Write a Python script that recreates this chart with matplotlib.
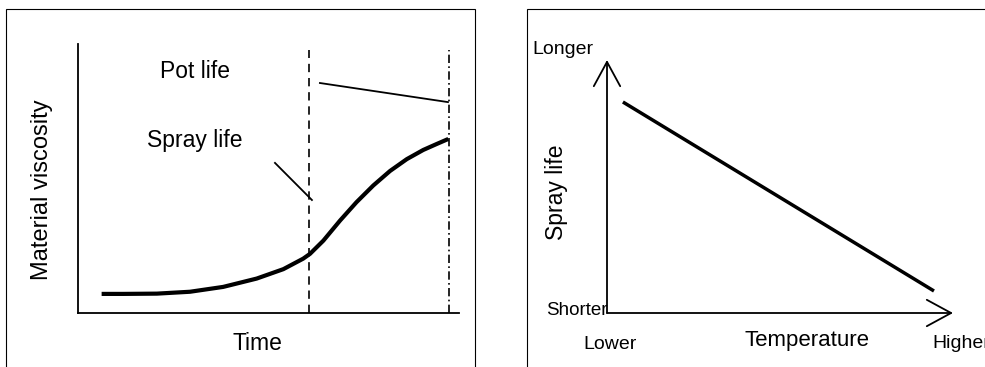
import matplotlib.pyplot as plt
from matplotlib.patches import Rectangle

plt.rcParams['font.family'] = ['Liberation Sans', 'DejaVu Sans']

# left panel: viscosity vs time (schematic units 0..10)
time = [0.62, 1.19, 2.07, 2.94, 3.81, 4.69, 5.39, 5.91, 6.09, 6.44, 6.88,
        7.31, 7.75, 8.19, 8.63, 9.06, 9.41, 9.72]
viscosity = [0.71, 0.71, 0.72, 0.79, 0.97, 1.28, 1.63, 2.02, 2.20, 2.69, 3.44,
             4.12, 4.74, 5.28, 5.72, 6.06, 6.28, 6.47]
spray_limit = 6.06
pot_limit = 9.74
limit_top = 9.78
pot_leader_x = [6.35, 9.71]
pot_leader_y = [8.55, 7.84]
spray_leader_x = [5.17, 6.14]
spray_leader_y = [5.58, 4.20]

# right panel: spray life vs temperature
temperature = [0.46, 9.45]
spray_life = [8.34, 0.87]

W, H = 985, 367
fig = plt.figure(figsize=(W / 100, H / 100), dpi=100)

# outer frames
fig.add_artist(Rectangle((6 / W, -0.1), (475 - 6) / W, (H - 9) / H + 0.1,
                         transform=fig.transFigure, fill=False, lw=0.8, color='black'))
fig.add_artist(Rectangle((527 / W, -0.1), 0.6, (H - 9) / H + 0.1,
                         transform=fig.transFigure, fill=False, lw=0.8, color='black'))

# ---- left
ax = fig.add_axes([78 / W, (H - 313) / H, (459 - 78) / W, (313 - 44) / H])
ax.set_xlim(0, 10)
ax.set_ylim(0, 10)
for s in ['top', 'right']:
    ax.spines[s].set_visible(False)
for s in ['left', 'bottom']:
    ax.spines[s].set_linewidth(1.3)
ax.set_xticks([])
ax.set_yticks([])
ax.patch.set_alpha(0)

ax.plot(time, viscosity, color='black', lw=3, solid_capstyle='butt',
        solid_joinstyle='round')
ax.plot([spray_limit, spray_limit], [0, limit_top], color='black', lw=1.2,
        linestyle=(0, (5, 3.5)))
ax.plot([pot_limit, pot_limit], [0, limit_top], color='black', lw=1.2,
        linestyle=(0, (5, 2, 1, 2)))
ax.plot(pot_leader_x, pot_leader_y, color='black', lw=1.3)
ax.plot(spray_leader_x, spray_leader_y, color='black', lw=1.3)

ax.text(3.07, 8.96, 'Pot life', fontsize=16.5, ha='center', va='center')
ax.text(3.07, 6.43, 'Spray life', fontsize=16.5, ha='center', va='center')
ax.text(-0.0945, 0.457, 'Material viscosity', fontsize=17, rotation=90,
        ha='center', va='center', transform=ax.transAxes)
ax.text(0.472, -0.112, 'Time', fontsize=16.5, ha='center', va='center',
        transform=ax.transAxes)

# ---- right
ax2 = fig.add_axes([607 / W, (H - 313) / H, (953 - 607) / W, (313 - 60) / H])
ax2.set_xlim(0, 10)
ax2.set_ylim(0, 10)
for s in ax2.spines.values():
    s.set_visible(False)
ax2.set_xticks([])
ax2.set_yticks([])
ax2.patch.set_alpha(0)

arrow = dict(arrowstyle='->,head_length=1.75,head_width=0.95', lw=1.3,
             color='black', shrinkA=0, shrinkB=0)
ax2.annotate('', xy=(0, 10), xytext=(0, 0), arrowprops=arrow, annotation_clip=False)
ax2.annotate('', xy=(10, 0), xytext=(0, 0), arrowprops=arrow, annotation_clip=False)

ax2.plot(temperature, spray_life, color='black', lw=2.5, solid_capstyle='butt')

ax2.text(-2.17, 10.4, 'Longer', fontsize=14, ha='left', va='center', clip_on=False)
ax2.text(0.02, 0.08, 'Shorter', fontsize=13.5, ha='right', va='center', clip_on=False)
ax2.text(0.09, -1.26, 'Lower', fontsize=14, ha='center', va='center', clip_on=False)
ax2.text(5.78, -1.07, 'Temperature', fontsize=16, ha='center', va='center', clip_on=False)
ax2.text(9.39, -1.19, 'Higher', fontsize=14, ha='left', va='center', clip_on=False)
ax2.text(-1.45, 4.78, 'Spray life', fontsize=16.5, rotation=90, ha='center',
         va='center', clip_on=False)

fig.savefig('out.png', dpi=100)
